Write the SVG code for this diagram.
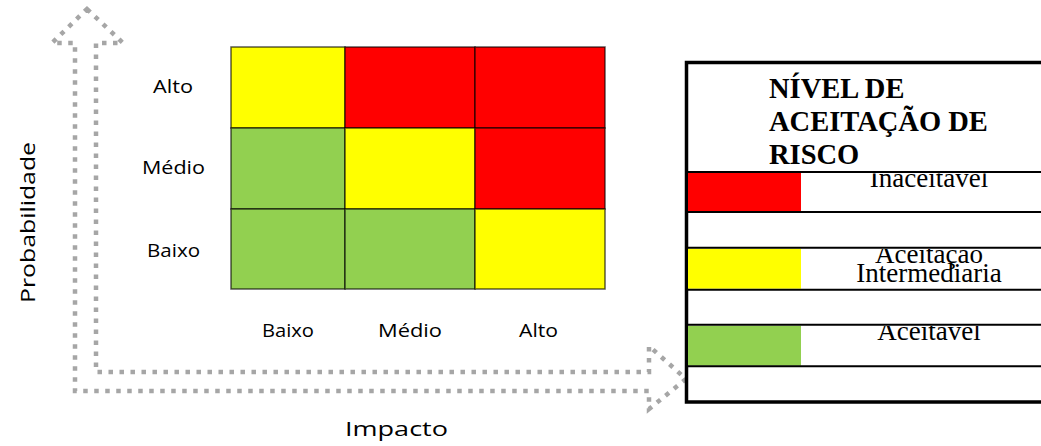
<svg xmlns="http://www.w3.org/2000/svg" width="1041" height="446" viewBox="0 0 1041 446">
<style>
.lbl{font-family:"Open Sans","DejaVu Sans",sans-serif;font-size:18.5px;fill:#000}
.ax{font-family:"Open Sans","DejaVu Sans",sans-serif;font-size:20px;fill:#000}
.cell{stroke:#000;stroke-opacity:0.65;stroke-width:1.5}
.title{font-family:"Liberation Serif","Times New Roman",serif;font-size:28.5px;font-weight:bold;fill:#000}
.leg{font-family:"Liberation Serif","Times New Roman",serif;font-size:27px;fill:#000}
.rowline{stroke:#000;stroke-width:2}
.arrow{fill:none;stroke:#a6a6a6;stroke-width:4.5;stroke-dasharray:4.5 6.5}
</style>
<defs>
<clipPath id="c1"><rect x="690" y="173.5" width="351" height="40"/></clipPath>
<clipPath id="c2"><rect x="690" y="249" width="351" height="42"/></clipPath>
<clipPath id="c3"><rect x="690" y="326" width="351" height="42"/></clipPath>
</defs>
<rect width="1041" height="446" fill="#fff"/>

<g id="connectors">
<path class="arrow" d="M87,9 L123,43 L96,43 L96,372 L649,372 L649,346 L686,379 L649,409 L649,391 L75,391 L75,43 L52,43 Z"/>
</g>

<g id="matrix">
<rect class="cell" x="231" y="47" width="114" height="81" fill="#ffff00"/>
<rect class="cell" x="345" y="47" width="130" height="81" fill="#ff0000"/>
<rect class="cell" x="475" y="47" width="130" height="81" fill="#ff0000"/>
<rect class="cell" x="231" y="128" width="114" height="81" fill="#92d050"/>
<rect class="cell" x="345" y="128" width="130" height="81" fill="#ffff00"/>
<rect class="cell" x="475" y="128" width="130" height="81" fill="#ff0000"/>
<rect class="cell" x="231" y="209" width="114" height="80" fill="#92d050"/>
<rect class="cell" x="345" y="209" width="130" height="80" fill="#92d050"/>
<rect class="cell" x="475" y="209" width="130" height="80" fill="#ffff00"/>
</g>

<g id="labels-y">
<text class="lbl" x="153" y="93" textLength="40" lengthAdjust="spacingAndGlyphs">Alto</text>
<text class="lbl" x="142" y="174" textLength="63" lengthAdjust="spacingAndGlyphs">Médio</text>
<text class="lbl" x="147" y="257" textLength="53" lengthAdjust="spacingAndGlyphs">Baixo</text>
</g>
<g id="labels-x">
<text class="lbl" x="262" y="337" textLength="52" lengthAdjust="spacingAndGlyphs">Baixo</text>
<text class="lbl" x="378" y="337" textLength="64" lengthAdjust="spacingAndGlyphs">Médio</text>
<text class="lbl" x="519" y="337" textLength="39" lengthAdjust="spacingAndGlyphs">Alto</text>
</g>
<g id="axis-titles">
<text class="ax" x="345" y="436" textLength="103" lengthAdjust="spacingAndGlyphs">Impacto</text>
<text class="ax" transform="translate(35,303) rotate(-90)" x="0" y="0" font-size="25" textLength="161" lengthAdjust="spacingAndGlyphs">Probabilidade</text>
</g>

<g id="legend">
<rect x="686.5" y="62.5" width="400" height="339.5" fill="#fff" stroke="#000" stroke-width="3.5"/>
<text class="title" x="769" y="97.5">NÍVEL DE</text>
<text class="title" x="769" y="131">ACEITAÇÃO DE</text>
<text class="title" x="769" y="163.5">RISCO</text>
<rect x="688" y="173" width="113" height="38" fill="#ff0000"/>
<rect x="688" y="248.7" width="113" height="40" fill="#ffff00"/>
<rect x="688" y="325.7" width="113" height="40" fill="#92d050"/>
<line class="rowline" x1="688" y1="172" x2="1041" y2="172"/>
<line class="rowline" x1="688" y1="212" x2="1041" y2="212"/>
<line class="rowline" x1="688" y1="247.7" x2="1041" y2="247.7"/>
<line class="rowline" x1="688" y1="289.7" x2="1041" y2="289.7"/>
<line class="rowline" x1="688" y1="324.7" x2="1041" y2="324.7"/>
<line class="rowline" x1="688" y1="366.3" x2="1041" y2="366.3"/>
<text class="leg" x="929" y="187" text-anchor="middle" clip-path="url(#c1)">Inaceitavel</text>
<text class="leg" x="929" y="263" text-anchor="middle" clip-path="url(#c2)">Aceitação</text>
<text class="leg" x="929" y="282" text-anchor="middle">Intermediaria</text>
<text class="leg" x="929" y="339.5" text-anchor="middle" clip-path="url(#c3)">Aceitavel</text>
</g>
</svg>
